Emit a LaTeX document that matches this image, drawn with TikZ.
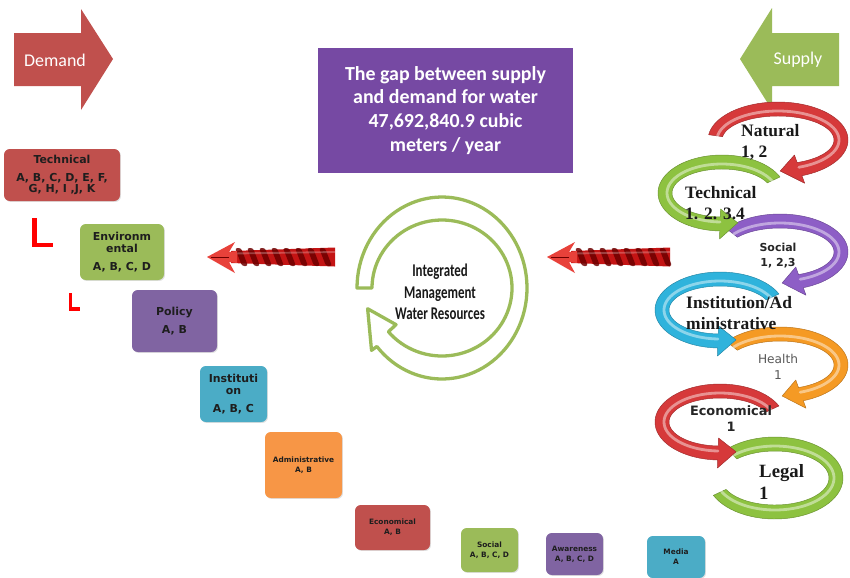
\documentclass[tikz,border=0pt]{standalone}
\usepackage{fontspec}
\setmainfont{Liberation Serif}
\newfontfamily\calfont{Carlito}
\newfontfamily\calnarrow[FakeStretch=0.72]{Carlito}
\newfontfamily\verfont{DejaVu Sans}
\usetikzlibrary{shadows}

\definecolor{ofred}{HTML}{C0504D}
\definecolor{ofgreen}{HTML}{9BBB59}
\definecolor{ofpurple}{HTML}{8064A2}
\definecolor{ofblue}{HTML}{4BACC6}
\definecolor{oforange}{HTML}{F79646}
\definecolor{swred}{HTML}{D6393A}
\definecolor{swgreen}{HTML}{8DC240}
\definecolor{swpurple}{HTML}{8D5EC6}
\definecolor{swblue}{HTML}{2FB3DC}
\definecolor{sworange}{HTML}{F59A24}
\definecolor{titlepurple}{HTML}{7649A3}
\definecolor{ropered}{HTML}{C41414}
\definecolor{ropedark}{HTML}{6E0000}
\definecolor{tipred}{HTML}{E8413A}
\definecolor{boxtext}{HTML}{1E1E1E}

% curved ribbon arrow on an ellipse: cx, cy, rx, ry, start angle, head base angle, tip angle, colour
\newcommand{\swirl}[8]{%
  \begin{scope}[shift={(#1,#2)}]
    \filldraw[fill=#8, draw=#8!75!black, line width=.4pt, line join=round]
      plot[domain=#5:#6, variable=\t, samples=60] ({(#3+7)*cos(\t)}, {(#4+7)*sin(\t)})
      -- (#6:#3+15 and #4+15) -- (#7:#3 and #4) -- (#6:#3-15 and #4-15)
      -- plot[domain=#6:#5, variable=\t, samples=60] ({(#3-7)*cos(\t)}, {(#4-7)*sin(\t)}) -- cycle;
    \draw[white, opacity=.45, line width=2.4pt, line cap=round]
      plot[domain=#5:#6, variable=\t, samples=60] ({(#3-2)*cos(\t)}, {(#4-2)*sin(\t)});
  \end{scope}}

% curved ribbon without a head: cx, cy, rx, ry, start angle, end angle, colour
\newcommand{\ribbon}[7]{%
  \begin{scope}[shift={(#1,#2)}]
    \filldraw[fill=#7, draw=#7!75!black, line width=.4pt, line join=round]
      plot[domain=#5:#6, variable=\t, samples=60] ({(#3+7)*cos(\t)}, {(#4+7)*sin(\t)})
      -- plot[domain=#6:#5, variable=\t, samples=60] ({(#3-7)*cos(\t)}, {(#4-7)*sin(\t)}) -- cycle;
    \draw[white, opacity=.45, line width=2.4pt, line cap=round]
      plot[domain=#5:#6, variable=\t, samples=60] ({(#3-2)*cos(\t)}, {(#4-2)*sin(\t)});
  \end{scope}}

% twisted rope arrow pointing left: tip x, tail x, y
\newcommand{\rope}[3]{%
  \begin{scope}[shift={(#1,#3)}]
    \fill[ropered] (24,-6) -- ({#2-#1},-9.5) -- ({#2-#1},9.5) -- (24,6) -- cycle;
    \foreach \s in {28,40,...,112}
      \fill[ropedark, opacity=.85, rounded corners=2pt] (\s,-9) -- (\s+6,-9) -- (\s+13,9) -- (\s+7,9) -- cycle;
    \draw[white, opacity=.25, line width=1.6pt] (26,-3.5) -- ({#2-#1},-5);
    \fill[tipred] (0,0) -- (28,-15) -- (22,-5) -- (30,-6) -- (30,6) -- (22,5) -- (28,16) -- cycle;
    \draw[ropedark, line width=.6pt] (4,0) -- (22,0);
  \end{scope}}

\tikzset{
  catbox/.style={rounded corners=5pt, inner sep=0pt, align=center, text=boxtext,
    font=\fontsize{9.35pt}{10.2pt}\selectfont\verfont\bfseries,
    drop shadow={shadow xshift=.8pt, shadow yshift=-.8pt, opacity=.25}},
  smallbox/.style={catbox, font=\fontsize{6.3pt}{8.5pt}\selectfont\verfont\bfseries},
  boxsize/.style 2 args={minimum width=#1*0.03cm, minimum height=#2*0.03cm},
  seriflbl/.style={anchor=west, inner sep=0pt, align=left, text=black!90,
    font=\fontsize{14.9pt}{17.9pt}\selectfont\bfseries},
  sanslbl/.style={inner sep=0pt, align=center, text=black!85}
}

\begin{document}
\begin{tikzpicture}[x=0.03cm, y=-0.03cm]
\useasboundingbox (0,0) rectangle (850,577);
\fill[white] (0,0) rectangle (850,577);

% demand and supply block arrows
\fill[ofred] (14,33) -- (81,33) -- (81,9) -- (113,59) -- (81,110) -- (81,86) -- (14,86) -- cycle;
\node[text=white, font=\fontsize{15.3pt}{18pt}\selectfont\calfont] (demand) at (55,60) {Demand};
\fill[ofgreen] (839,33) -- (772,33) -- (772,8) -- (740,59) -- (772,110) -- (772,86) -- (839,86) -- cycle;
\node[text=white, font=\fontsize{15.3pt}{18pt}\selectfont\calfont] (supply) at (798,60) {Supply};

% gap box
\node[fill=titlepurple, text=white, align=center, inner sep=0pt, boxsize={255}{125},
  font=\fontsize{17pt}{20.4pt}\selectfont\calfont\bfseries] (gap) at (445.5,110.5)
  {The gap between supply\\and demand for water\\47,692,840.9 cubic\\meters / year};

% demand-side categories
\node[catbox, fill=ofred, boxsize={116}{52}] (technical) at (62,175)
  {Technical\\[5pt]A, B, C, D, E, F,\\G, H, I ,J, K};
\node[catbox, fill=ofgreen, boxsize={84}{56}] (environ) at (122,252)
  {Environm\\ental\\[5pt]A, B, C, D};
\node[catbox, fill=ofpurple, boxsize={85}{62}] (policy) at (174.5,321)
  {Policy\\[5pt]A, B};
\node[catbox, fill=ofblue, boxsize={67}{56}] (institution) at (233.5,394)
  {Instituti\\on\\[5pt]A, B, C};
\node[smallbox, fill=oforange, boxsize={77}{66}] (admin) at (303.5,465)
  {Administrative\\A, B};
\node[smallbox, fill=ofred, boxsize={75}{45}] (econ) at (392.5,527.5)
  {Economical\\A, B};
\node[smallbox, fill=ofgreen, boxsize={57}{44}] (social) at (489.5,550)
  {Social\\A, B, C, D};
\node[smallbox, fill=ofpurple, boxsize={57}{42}] (aware) at (574.5,554)
  {Awareness\\A, B, C, D};
\node[smallbox, fill=ofblue, boxsize={58}{42}] (media) at (676,557)
  {Media\\A};

% red corner marks
\draw[red, line width=4.2pt] (34.5,218) -- (34.5,245) -- (53,245);
\draw[red, line width=3pt] (70.5,293) -- (70.5,309) -- (80,309);

% rope arrows
\rope{207}{335}{257}
\rope{547}{670}{257}

% integrated management cycle
\begin{scope}[shift={(442,288)}]
  \filldraw[fill=white, draw=ofgreen, line width=2.8pt, line join=round]
    plot[domain=180:500, variable=\t, samples=90] ({85*cos(\t)}, {91*sin(\t)})
    -- (500:92 and 97) -- (525:77 and 80) -- (500:60 and 57)
    -- plot[domain=500:180, variable=\t, samples=90] ({70*cos(\t)}, {68*sin(\t)}) -- cycle;
\end{scope}
\node[align=center, inner sep=0pt, text=black!90, font=\fontsize{15.3pt}{18.4pt}\selectfont\calnarrow\bfseries] (iwrm)
  at (440,292) {Integrated\\Management\\Water Resources};

% supply-side chain of curved arrows, drawn from the bottom up
\ribbon{775}{478}{61}{34}{225}{515}{swgreen}
\swirl{720}{422}{58}{31}{335}{92}{74}{swred}
\swirl{780}{365}{61}{31}{218}{430}{448}{sworange}
\swirl{720}{310}{58}{31}{335}{92}{74}{swblue}
\swirl{780}{252}{61}{31}{218}{430}{448}{swpurple}
\swirl{722}{193}{57}{31}{335}{92}{74}{swgreen}
\swirl{778}{140}{63}{31}{188}{430}{448}{swred}

\node[seriflbl] (natural) at (741,142.5) {Natural\\1, 2};
\node[seriflbl] (techsup) at (685,203) {Technical\\1. 2. 3.4};
\node[sanslbl, font=\fontsize{9.4pt}{12.7pt}\selectfont\verfont\bfseries] (socsup) at (778,255.5) {Social\\1, 2,3};
\node[seriflbl] (instsup) at (686,313) {Institution/Ad\\ministrative};
\node[sanslbl, text=black!65, font=\fontsize{10.4pt}{13.6pt}\selectfont\verfont] (health) at (778,367) {Health\\1};
\node[sanslbl, font=\fontsize{11pt}{13.6pt}\selectfont\verfont\bfseries] (econsup) at (731,419) {Economical\\1};
\node[seriflbl, font=\fontsize{16pt}{19pt}\selectfont\bfseries] (legal) at (759,482) {Legal\\1};
\end{tikzpicture}
\end{document}
